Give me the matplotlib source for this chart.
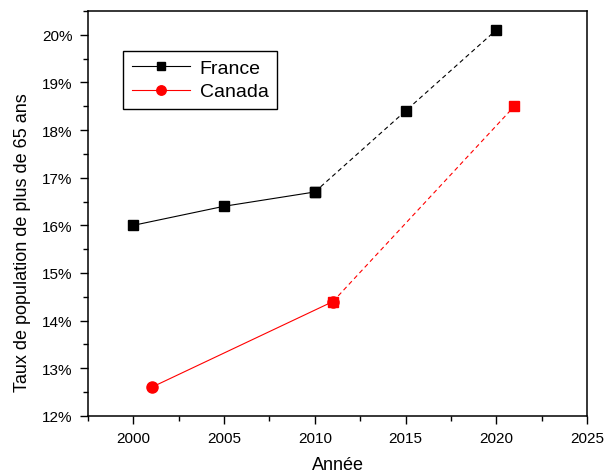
import numpy as np
import matplotlib.pyplot as plt
from matplotlib.ticker import MultipleLocator, FuncFormatter

plt.rcParams['font.family'] = ['Liberation Sans', 'DejaVu Sans']

# France: mesures (trait plein) puis projections (pointillés)
fr_years_obs = [2000, 2005, 2010]
fr_rate_obs = [16.0, 16.4, 16.7]
fr_years_proj = [2010, 2015, 2020]
fr_rate_proj = [16.7, 18.4, 20.1]

# Canada
ca_years_obs = [2001, 2011]
ca_rate_obs = [12.6, 14.4]
ca_years_proj = [2011, 2021]
ca_rate_proj = [14.4, 18.5]

fig = plt.figure(figsize=(6.07, 4.77), dpi=100)
ax = fig.add_axes([0.145, 0.126, 0.822, 0.849])

ax.plot(fr_years_obs, fr_rate_obs, 'k-', marker='s', ms=7, lw=0.8, label='France')
ax.plot(fr_years_proj, fr_rate_proj, 'k--', marker='s', ms=7, lw=0.8, dashes=(4, 3))
ax.plot(ca_years_obs, ca_rate_obs, 'r-', marker='o', ms=8, lw=0.8, label='Canada')
ax.plot(ca_years_proj, ca_rate_proj, 'r--', marker='s', ms=7, lw=0.8, dashes=(4, 3))

ax.set_xlim(1997.5, 2025)
ax.set_ylim(12, 20.5)
ax.xaxis.set_major_locator(MultipleLocator(5))
ax.xaxis.set_minor_locator(MultipleLocator(2.5))
ax.yaxis.set_major_locator(MultipleLocator(1))
ax.yaxis.set_minor_locator(MultipleLocator(0.5))
ax.yaxis.set_major_formatter(FuncFormatter(lambda v, p: '%d%%' % round(v)))

ax.tick_params(which='major', direction='out', length=6, width=1, labelsize=11, pad=5)
ax.tick_params(which='minor', direction='out', length=3.5, width=1)
for s in ax.spines.values():
    s.set_linewidth(1.1)

ax.set_xlabel('Année', fontsize=13, labelpad=8)
ax.set_ylabel('Taux de population de plus de 65 ans', fontsize=13)
ax.yaxis.set_label_coords(-0.114, 0.43)

leg = ax.legend(loc='upper left', bbox_to_anchor=(0.07, 0.902), borderaxespad=0,
                fontsize=14, fancybox=False, edgecolor='black', framealpha=1,
                handlelength=3.0, handletextpad=0.5, borderpad=0.45,
                labelspacing=0.3, markerscale=0.85)
leg.get_frame().set_linewidth(1)

fig.savefig('out.png', dpi=100)
